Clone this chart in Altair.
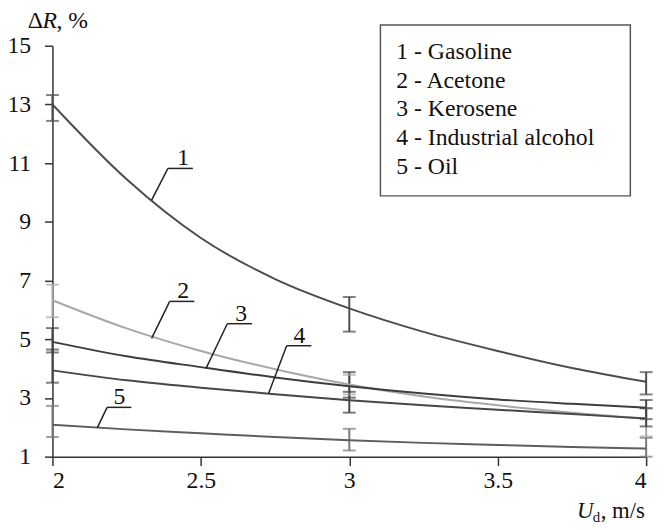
import altair as alt
import pandas as pd

# ---- data ----
ids = ["1", "2", "3", "4", "5"]
names = ["Gasoline", "Acetone", "Kerosene", "Industrial alcohol", "Oil"]

x_curve = [2.0, 2.25, 2.5, 2.75, 3.0, 3.25, 3.5, 3.75, 4.0]
gasoline = [13.0, 10.45, 8.45, 7.05, 6.05, 5.25, 4.6, 4.02, 3.55]
acetone = [6.33, 5.37, 4.6, 3.98, 3.46, 3.05, 2.75, 2.5, 2.3]
kerosene = [4.91, 4.42, 4.05, 3.7, 3.4, 3.15, 2.95, 2.8, 2.67]
alcohol = [3.94, 3.6, 3.35, 3.13, 2.92, 2.75, 2.6, 2.45, 2.3]
oil = [2.09, 1.93, 1.8, 1.67, 1.56, 1.47, 1.4, 1.33, 1.28]

x_err = [2.0, 3.0, 4.0]
gasoline_lo = [12.44, 5.26, 3.12]
gasoline_hi = [13.32, 6.44, 3.88]
acetone_lo = [5.75, 3.12, 1.69]
acetone_hi = [6.86, 3.79, 2.65]
kerosene_lo = [4.55, 3.01, 2.28]
kerosene_hi = [5.38, 3.88, 2.93]
alcohol_lo = [3.52, 2.50, 2.03]
alcohol_hi = [4.65, 3.21, 2.65]
oil_lo = [1.67, 1.21, 1.0]
oil_hi = [2.73, 1.95, 1.64]

# curve label annotations (data units): underline from ul_x1..ul_x2 at ul_y,
# leader from (ul_x1, ul_y) to (lead_x, lead_y), text at label_x
ul_x1 = [2.389, 2.395, 2.589, 2.789, 2.184]
ul_x2 = [2.473, 2.478, 2.672, 2.872, 2.266]
ul_y = [10.82, 6.29, 5.53, 4.78, 2.68]
lead_x = [2.334, 2.334, 2.517, 2.728, 2.151]
lead_y = [9.74, 5.03, 4.00, 3.15, 1.98]
label_x = [2.440, 2.440, 2.636, 2.832, 2.226]

x_ticks = [2, 2.5, 3, 3.5, 4]
y_ticks = [1, 3, 5, 7, 9, 11, 13, 15]

line_colors = ["#4d4d4d", "#a8a8a8", "#3d3d3d", "#474747", "#5e5e5e"]
bar_colors = ["#4d4d4d", "#a8a8a8", "#444444", "#444444", "#7a7a7a"]

FONT = "Liberation Serif"

# ---- tables ----
series_vals = [gasoline, acetone, kerosene, alcohol, oil]
los = [gasoline_lo, acetone_lo, kerosene_lo, alcohol_lo, oil_lo]
his = [gasoline_hi, acetone_hi, kerosene_hi, alcohol_hi, oil_hi]

curve_rows = []
for sid, vals in zip(ids, series_vals):
    for xv, yv in zip(x_curve, vals):
        curve_rows.append({"s": sid, "x": xv, "y": yv})
curves = pd.DataFrame(curve_rows)

err_rows, cap_rows = [], []
for sid, lo, hi in zip(ids, los, his):
    for xv, l, h in zip(x_err, lo, hi):
        err_rows.append({"s": sid, "x": xv, "lo": l, "hi": h})
        cap_rows.append({"s": sid, "x": xv, "y": l})
        cap_rows.append({"s": sid, "x": xv, "y": h})
errs = pd.DataFrame(err_rows)
caps = pd.DataFrame(cap_rows)

ann = pd.DataFrame({"s": ids, "x1": ul_x1, "x2": ul_x2, "y": ul_y,
                    "lx": lead_x, "ly": lead_y, "tx": label_x})

xscale = alt.Scale(domain=[2, 4], nice=False, zero=False)
yscale = alt.Scale(domain=[1, 15], nice=False, zero=False)
xaxis = alt.Axis(values=x_ticks, format=".1~f", title=None, grid=False,
                 tickSize=9, labelPadding=3)
yaxis = alt.Axis(values=y_ticks, title=None, grid=False, tickSize=8,
                 labelPadding=14)


def X(f):
    return alt.X(f, type="quantitative", scale=xscale, axis=xaxis)


def Y(f):
    return alt.Y(f, type="quantitative", scale=yscale, axis=yaxis)


lc = alt.Color("s:N", scale=alt.Scale(domain=ids, range=line_colors), legend=None)

lines = alt.Chart(curves).mark_line(strokeWidth=2, interpolate="monotone").encode(
    x=X("x"), y=Y("y"), color=lc, detail="s:N")

bars = alt.Chart(errs).mark_rule(strokeWidth=2).encode(
    x=X("x"), y=Y("lo"), y2="hi",
    stroke=alt.Stroke("s:N", scale=alt.Scale(domain=ids, range=bar_colors), legend=None))

capm = alt.Chart(caps).mark_tick(orient="horizontal", size=13, thickness=2).encode(
    x=X("x"), y=Y("y"),
    color=alt.Color("s:N", scale=alt.Scale(domain=ids, range=bar_colors), legend=None))

underline = alt.Chart(ann).mark_rule(strokeWidth=1.5, color="#222").encode(
    x=X("x1"), x2="x2", y=Y("y"))
leader = alt.Chart(ann).mark_rule(strokeWidth=1.5, color="#222").encode(
    x=X("x1"), y=Y("y"), x2="lx", y2="ly")
labels = alt.Chart(ann).mark_text(font=FONT, fontSize=24, color="#111",
                                  baseline="alphabetic", dy=-3, align="center").encode(
    x=X("tx"), y=Y("y"), text="s:N")

one = pd.DataFrame({"a": [0]})

legend_box = alt.Chart(one).mark_rect(fill="white", stroke="#555", strokeWidth=1.5).encode(
    x=alt.value(332), x2=alt.value(585), y=alt.value(-21), y2=alt.value(152))

legend_layers = []
for i, (sid, nm) in enumerate(zip(ids, names)):
    legend_layers.append(
        alt.Chart(one).mark_text(font=FONT, fontSize=24, color="#111", align="left",
                                 baseline="alphabetic", text=f"{sid} - {nm}").encode(
            x=alt.value(348), y=alt.value(13 + i * 29.3)))


def txt(t, xv, yv, size=24, style="normal"):
    return alt.Chart(one).mark_text(font=FONT, fontSize=size, fontStyle=style, color="#111",
                                    align="left", baseline="alphabetic", text=t).encode(
        x=alt.value(xv), y=alt.value(yv))


H = 416
titles = [
    txt("\u0394", -25, -18),
    txt("R", -10, -18, style="italic"),
    txt(", %", 4, -18),
    txt("U", 531, H + 62, size=23, style="italic"),
    txt("d", 547, H + 66, size=15),
    txt(", m/s", 555, H + 62, size=23),
]

chart = alt.layer(
    bars, capm, lines, underline, leader, labels, legend_box, *legend_layers, *titles
).resolve_scale(color="independent").properties(
    width=601, height=H,
    autosize=alt.AutoSizeParams(type="none"),
    padding={"left": 45, "top": 35, "right": 12, "bottom": 68},
).configure_view(stroke=None).configure_axis(
    labelFont=FONT, labelFontSize=24, labelColor="#111",
    domainColor="#333", tickColor="#333", domainWidth=1.5, tickWidth=1.5,
)

chart.save("out.html", embed_options={"renderer": "svg", "actions": False})
